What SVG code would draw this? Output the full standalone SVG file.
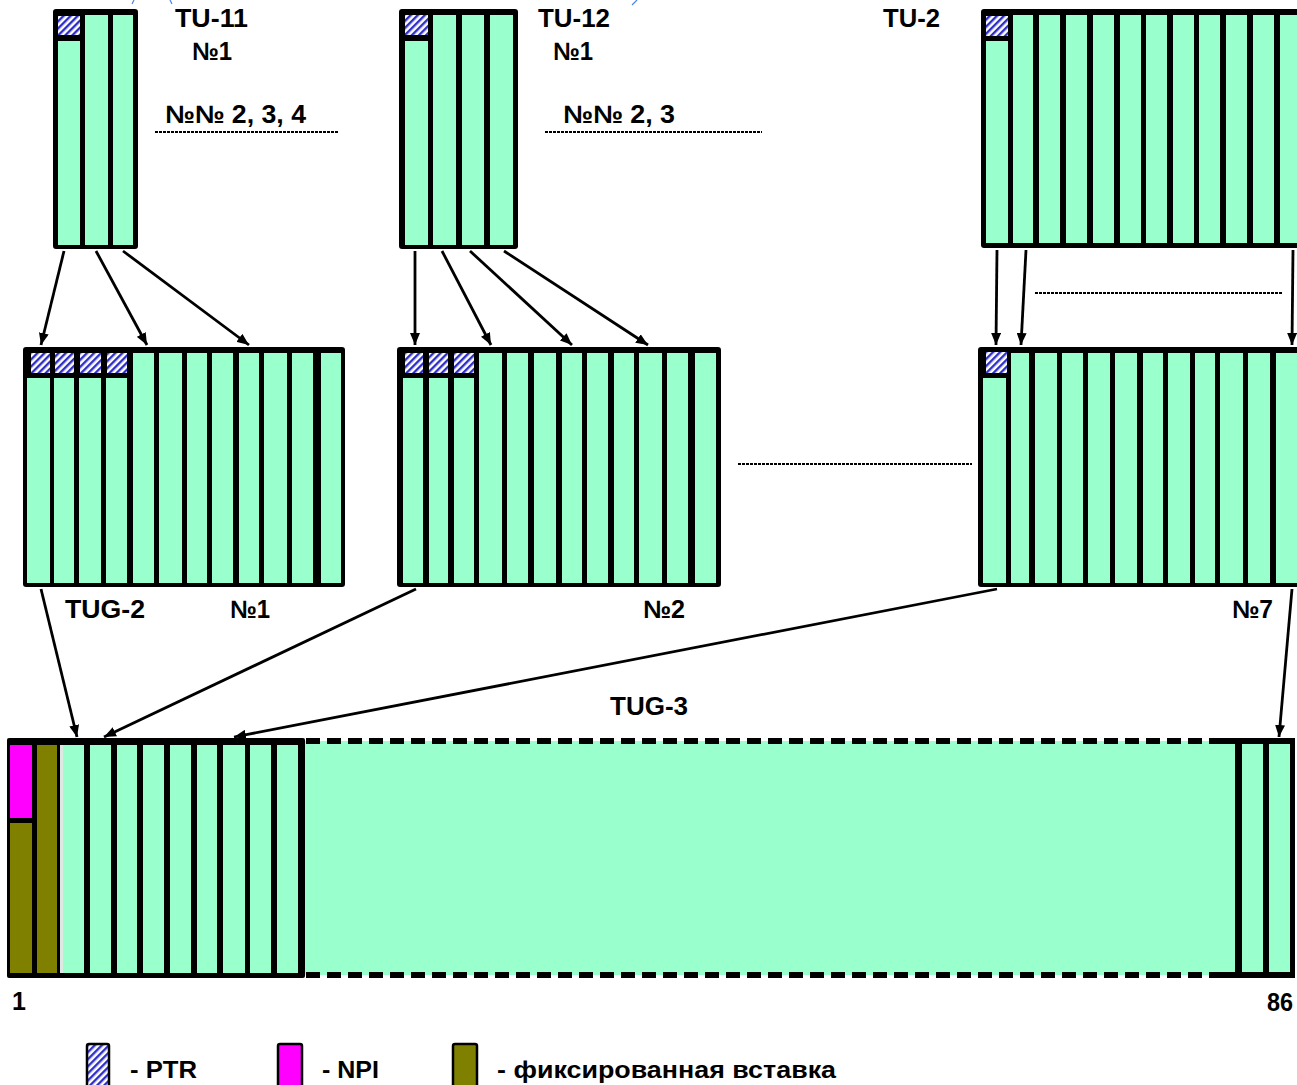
<svg xmlns="http://www.w3.org/2000/svg" width="1297" height="1085" viewBox="0 0 1297 1085">
<style>
.frame{fill:#000}
.c{fill:#99FFCC}
.h{fill:url(#hatch)}
.t{font-family:"Liberation Sans",Arial,sans-serif;font-weight:bold;font-size:25px;fill:#000}
.lg{font-family:"Liberation Sans",Arial,sans-serif;font-weight:bold;font-size:23px;fill:#000}
.dot{stroke:#000;stroke-width:2;stroke-dasharray:3 1;fill:none}
.arr{stroke:#000;stroke-width:2.8;fill:none;marker-end:url(#ah)}
.dash{stroke:#000;stroke-width:6;stroke-dasharray:14 7;fill:none}
</style>
<defs>
<pattern id="hatch" patternUnits="userSpaceOnUse" width="5" height="5" patternTransform="rotate(45)">
<rect width="5" height="5" fill="#ffffff"/>
<rect width="2.4" height="5" fill="#2f2fc8"/>
</pattern>
<marker id="ah" markerUnits="userSpaceOnUse" markerWidth="12" markerHeight="10" refX="12" refY="5" orient="auto">
<path d="M0,0 L12,5 L0,10 z" fill="#000"/>
</marker>
</defs>
<rect width="1297" height="1085" fill="#fff"/>

<g id="artifacts" stroke="#4a86e8" stroke-width="1.2" fill="none">
<path d="M132,4 L134,0"/><path d="M170,0 L172,4"/><path d="M632,5 L637,0"/>
</g>

<g id="tu11">
<rect class="frame" x="53" y="9" width="85" height="240" rx="3"/>
<rect class="h" x="58" y="16" width="22" height="19"/>
<rect class="c" x="58" y="41" width="22" height="204"/>
<rect class="c" x="85" y="15" width="23" height="230"/>
<rect class="c" x="113" y="15" width="20" height="230"/>
<text class="t" x="175" y="27" textLength="73" lengthAdjust="spacingAndGlyphs">TU-11</text>
<text class="t" x="192" y="60" textLength="40" lengthAdjust="spacingAndGlyphs">№1</text>
<text class="t" x="165" y="123" textLength="141" lengthAdjust="spacingAndGlyphs">№№ 2, 3, 4</text>
<line class="dot" x1="155" y1="132" x2="338" y2="132"/>
</g>

<g id="tu12">
<rect class="frame" x="399" y="9" width="119" height="240" rx="3"/>
<rect class="h" x="405" y="15" width="23" height="20"/>
<rect class="c" x="405" y="41" width="23" height="204"/>
<rect class="c" x="433" y="15" width="23" height="230"/>
<rect class="c" x="462" y="15" width="22" height="230"/>
<rect class="c" x="490" y="15" width="23" height="230"/>
<text class="t" x="538" y="27" textLength="72" lengthAdjust="spacingAndGlyphs">TU-12</text>
<text class="t" x="553" y="60" textLength="40" lengthAdjust="spacingAndGlyphs">№1</text>
<text class="t" x="563" y="123" textLength="112" lengthAdjust="spacingAndGlyphs">№№ 2, 3</text>
<line class="dot" x1="545" y1="132" x2="762" y2="132"/>
</g>

<g id="tu2">
<rect class="frame" x="981" y="9" width="330" height="239" rx="3"/>
<rect class="h" x="986" y="16" width="22" height="20"/>
<rect class="c" x="986" y="41" width="22" height="202"/>
<rect class="c" x="1013" y="15" width="20" height="228"/>
<rect class="c" x="1039" y="15" width="21" height="228"/>
<rect class="c" x="1066" y="15" width="21" height="228"/>
<rect class="c" x="1093" y="15" width="21" height="228"/>
<rect class="c" x="1120" y="15" width="21" height="228"/>
<rect class="c" x="1146" y="15" width="21" height="228"/>
<rect class="c" x="1173" y="15" width="21" height="228"/>
<rect class="c" x="1199" y="15" width="21" height="228"/>
<rect class="c" x="1226" y="15" width="21" height="228"/>
<rect class="c" x="1253" y="15" width="21" height="228"/>
<rect class="c" x="1280" y="15" width="21" height="228"/>
<text class="t" x="883" y="27" textLength="57" lengthAdjust="spacingAndGlyphs">TU-2</text>
<line class="dot" x1="1035" y1="293" x2="1282" y2="293"/>
</g>

<g id="tug2-1">
<rect class="frame" x="23" y="347" width="322" height="240" rx="3"/>
<rect class="h" x="31" y="353" width="19" height="20"/>
<rect class="h" x="55" y="353" width="19" height="20"/>
<rect class="h" x="80" y="353" width="21" height="20"/>
<rect class="h" x="107" y="353" width="20" height="20"/>
<rect class="c" x="27" y="378" width="23" height="205"/>
<rect class="c" x="54" y="378" width="20" height="205"/>
<rect class="c" x="79" y="378" width="22" height="205"/>
<rect class="c" x="106" y="378" width="21" height="205"/>
<rect class="c" x="133" y="353" width="21" height="230"/>
<rect class="c" x="159" y="353" width="23" height="230"/>
<rect class="c" x="187" y="353" width="20" height="230"/>
<rect class="c" x="212" y="353" width="21" height="230"/>
<rect class="c" x="239" y="353" width="20" height="230"/>
<rect class="c" x="264" y="353" width="23" height="230"/>
<rect class="c" x="292" y="353" width="21" height="230"/>
<rect class="c" x="321" y="353" width="20" height="230"/>
<text class="t" x="65" y="618" textLength="80" lengthAdjust="spacingAndGlyphs">TUG-2</text>
<text class="t" x="230" y="618" textLength="40" lengthAdjust="spacingAndGlyphs">№1</text>
</g>

<g id="tug2-2">
<rect class="frame" x="397" y="347" width="324" height="240" rx="3"/>
<rect class="h" x="405" y="353" width="18" height="20"/>
<rect class="h" x="429" y="353" width="19" height="20"/>
<rect class="h" x="454" y="353" width="20" height="20"/>
<rect class="c" x="403" y="378" width="20" height="205"/>
<rect class="c" x="429" y="378" width="19" height="205"/>
<rect class="c" x="454" y="378" width="20" height="205"/>
<rect class="c" x="479" y="353" width="23" height="230"/>
<rect class="c" x="507" y="353" width="21" height="230"/>
<rect class="c" x="534" y="353" width="22" height="230"/>
<rect class="c" x="562" y="353" width="20" height="230"/>
<rect class="c" x="587" y="353" width="21" height="230"/>
<rect class="c" x="614" y="353" width="20" height="230"/>
<rect class="c" x="639" y="353" width="23" height="230"/>
<rect class="c" x="667" y="353" width="21" height="230"/>
<rect class="c" x="695" y="353" width="21" height="230"/>
<text class="t" x="643" y="618" textLength="42" lengthAdjust="spacingAndGlyphs">№2</text>
</g>

<line class="dot" x1="738" y1="464" x2="972" y2="464"/>

<g id="tug2-7">
<rect class="frame" x="978" y="347" width="330" height="240" rx="3"/>
<rect class="h" x="986" y="352" width="21" height="21"/>
<rect class="c" x="983" y="378" width="23" height="205"/>
<rect class="c" x="1011" y="353" width="18" height="230"/>
<rect class="c" x="1035" y="353" width="22" height="230"/>
<rect class="c" x="1062" y="353" width="21" height="230"/>
<rect class="c" x="1088" y="353" width="22" height="230"/>
<rect class="c" x="1115" y="353" width="22" height="230"/>
<rect class="c" x="1143" y="353" width="20" height="230"/>
<rect class="c" x="1168" y="353" width="22" height="230"/>
<rect class="c" x="1195" y="353" width="20" height="230"/>
<rect class="c" x="1220" y="353" width="23" height="230"/>
<rect class="c" x="1248" y="353" width="22" height="230"/>
<rect class="c" x="1276" y="353" width="25" height="230"/>
<text class="t" x="1232" y="618" textLength="41" lengthAdjust="spacingAndGlyphs">№7</text>
</g>

<g id="tug3">
<rect class="c" x="303" y="741" width="935" height="234"/>
<line class="dash" x1="306" y1="741" x2="1224" y2="741"/>
<line class="dash" x1="306" y1="975" x2="1216" y2="975"/>
<rect class="frame" x="7" y="738" width="298" height="240" rx="2"/>
<rect x="10" y="745" width="22" height="73" fill="#FF00FF"/>
<rect x="10" y="823" width="22" height="150" fill="#808000"/>
<rect x="37" y="745" width="20" height="228" fill="#808000"/>
<rect x="60" y="745" width="3" height="228" fill="#dde8e2"/>
<rect class="c" x="63" y="745" width="21" height="228"/>
<rect class="c" x="90" y="745" width="21" height="228"/>
<rect class="c" x="117" y="745" width="20" height="228"/>
<rect class="c" x="143" y="745" width="21" height="228"/>
<rect class="c" x="170" y="745" width="21" height="228"/>
<rect class="c" x="197" y="745" width="20" height="228"/>
<rect class="c" x="223" y="745" width="22" height="228"/>
<rect class="c" x="250" y="745" width="21" height="228"/>
<rect class="c" x="277" y="745" width="21" height="228"/>
<rect class="frame" x="1222" y="738" width="73" height="6"/>
<rect class="frame" x="1215" y="972" width="80" height="6"/>
<rect class="frame" x="1235" y="738" width="60" height="240" rx="2"/>
<rect class="c" x="1242" y="744" width="21" height="228"/>
<rect class="c" x="1269" y="744" width="21" height="228"/>
<text class="t" x="610" y="715" textLength="78" lengthAdjust="spacingAndGlyphs">TUG-3</text>
<text class="t" x="12" y="1010">1</text>
<text class="t" x="1267" y="1011" textLength="26" lengthAdjust="spacingAndGlyphs">86</text>
</g>

<g id="connectors">
<line class="arr" x1="64" y1="251" x2="41" y2="345"/>
<line class="arr" x1="96" y1="251" x2="147" y2="345"/>
<line class="arr" x1="123" y1="251" x2="249" y2="345"/>
<line class="arr" x1="415" y1="251" x2="415" y2="345"/>
<line class="arr" x1="442" y1="251" x2="491" y2="345"/>
<line class="arr" x1="470" y1="251" x2="572" y2="345"/>
<line class="arr" x1="504" y1="251" x2="648" y2="345"/>
<line class="arr" x1="997" y1="250" x2="996" y2="345"/>
<line class="arr" x1="1026" y1="250" x2="1021" y2="345"/>
<line class="arr" x1="1293" y1="250" x2="1292" y2="345"/>
<line class="arr" x1="41" y1="589" x2="77" y2="737"/>
<line class="arr" x1="416" y1="589" x2="104" y2="737"/>
<line class="arr" x1="997" y1="589" x2="234" y2="737"/>
<line class="arr" x1="1292" y1="589" x2="1279" y2="737"/>
</g>

<g id="legend">
<rect x="87" y="1044" width="22" height="45" rx="2" fill="url(#hatch)" stroke="#000" stroke-width="2.5"/>
<text class="lg" x="130" y="1078" textLength="67" lengthAdjust="spacingAndGlyphs">- PTR</text>
<rect x="278" y="1044" width="24" height="45" rx="2" fill="#FF00FF" stroke="#000" stroke-width="2.5"/>
<text class="lg" x="322" y="1078" textLength="57" lengthAdjust="spacingAndGlyphs">- NPI</text>
<rect x="453" y="1044" width="24" height="45" rx="2" fill="#808000" stroke="#000" stroke-width="2.5"/>
<text class="lg" x="497" y="1078" textLength="339" lengthAdjust="spacingAndGlyphs">- фиксированная вставка</text>
</g>
</svg>
